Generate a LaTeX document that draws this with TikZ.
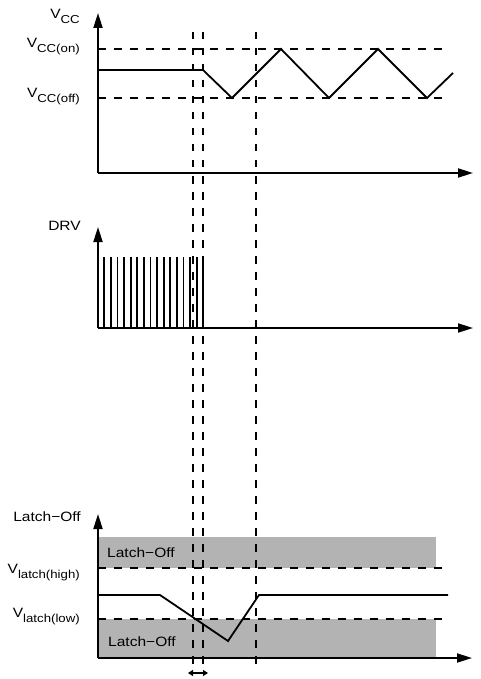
\documentclass[tikz,border=0pt]{standalone}
\usepackage{fontspec}
\setmainfont{Liberation Sans}
\usetikzlibrary{arrows.meta}
\newcommand{\vsubscr}[2][-4.8pt]{V\raisebox{#1}{\fontsize{11.5}{12}\selectfont #2}}
\definecolor{shade}{RGB}{179,179,179}
\tikzset{
  axis/.style={line width=1.9pt, -{Triangle[length=15pt,width=9pt]}},
  signal/.style={line width=1.8pt, line join=miter},
  guide/.style={line width=1.9pt, dash pattern=on 7.5pt off 8.5pt},
  pulse/.style={line width=1.8pt},
  lbl/.style={font=\fontsize{13.5}{15}\selectfont, inner sep=0pt, xscale=1.15},
  zone/.style={fill=shade, draw=none},
  span/.style={line width=1.8pt, {Triangle[length=5pt,width=6pt]}-{Triangle[length=5pt,width=6pt]}}
}
\begin{document}
\begin{tikzpicture}[x=1pt,y=-1pt]
\useasboundingbox (0,0) rectangle (480,679);

% ---------- shaded Latch-Off zones ----------
\fill[zone] (98,537) rectangle (436,568);
\fill[zone] (98,619) rectangle (436,658);

% ---------- VCC panel ----------
\coordinate (o1) at (98,173);
\coordinate (y1) at (98,13);
\coordinate (x1) at (473,173);
\draw[guide] (98,49) -- (448,49);
\draw[guide] (98,98) -- (448,98);
\draw[signal] (98,70) -- (203,70) -- (232,98) -- (281,49) -- (329,98) -- (378,49) -- (427,98) -- (453,73);
\draw[axis] (o1) -- (y1);
\draw[axis] (o1) -- (x1);

\node[lbl, anchor=base east] (vcc) at (80,19) {\vsubscr[-4.5pt]{CC}};
\node[lbl, anchor=base east] (vccon) at (80,47.3) {\vsubscr{CC(on)}};
\node[lbl, anchor=base east] (vccoff) at (80,97.3) {\vsubscr{CC(off)}};

% ---------- DRV panel ----------
\coordinate (o2) at (98,328);
\coordinate (y2) at (98,227);
\coordinate (x2) at (473,328);
\foreach \i in {0,...,15}{
  \draw[pulse] ({104.3+6.6*\i},257) -- ({104.3+6.6*\i},328);
}
\draw[axis] (o2) -- (y2);
\draw[axis] (o2) -- (x2);
\node[lbl, anchor=base east] (drv) at (81,230) {DRV};

% ---------- Latch-Off panel ----------
\coordinate (o3) at (98,658);
\coordinate (y3) at (98,514);
\coordinate (x3) at (472,658);
\draw[guide] (98,568) -- (448,568);
\draw[guide] (98,619) -- (448,619);
\draw[signal] (98,595) -- (160,595) -- (228,641) -- (259,595) -- (448,595);
\draw[axis] (o3) -- (y3);
\draw[axis] (o3) -- (x3);

\node[lbl, anchor=base east] (latchaxis) at (81,521.7) {Latch−Off};
\node[lbl, anchor=base east] (vhigh) at (80,573.3) {\vsubscr[-5pt]{latch(high)}};
\node[lbl, anchor=base east] (vlow) at (80,617.3) {\vsubscr[-5pt]{latch(low)}};
\node[lbl, anchor=base west] (zonehigh) at (107,557) {Latch−Off};
\node[lbl, anchor=base west] (zonelow) at (108,646) {Latch−Off};

% ---------- vertical time markers ----------
\coordinate (t1a) at (193,32);
\coordinate (t1b) at (193,668);
\coordinate (t2a) at (203,32);
\coordinate (t2b) at (203,668);
\coordinate (t3a) at (256,32);
\coordinate (t3b) at (256,667);
\draw[guide] (t1a) -- (t1b);
\draw[guide] (t2a) -- (t2b);
\draw[guide] (t3a) -- (t3b);

\coordinate (s1) at (188,673);
\coordinate (s2) at (208,673);
\draw[span] (s1) -- (s2);
\end{tikzpicture}
\end{document}
